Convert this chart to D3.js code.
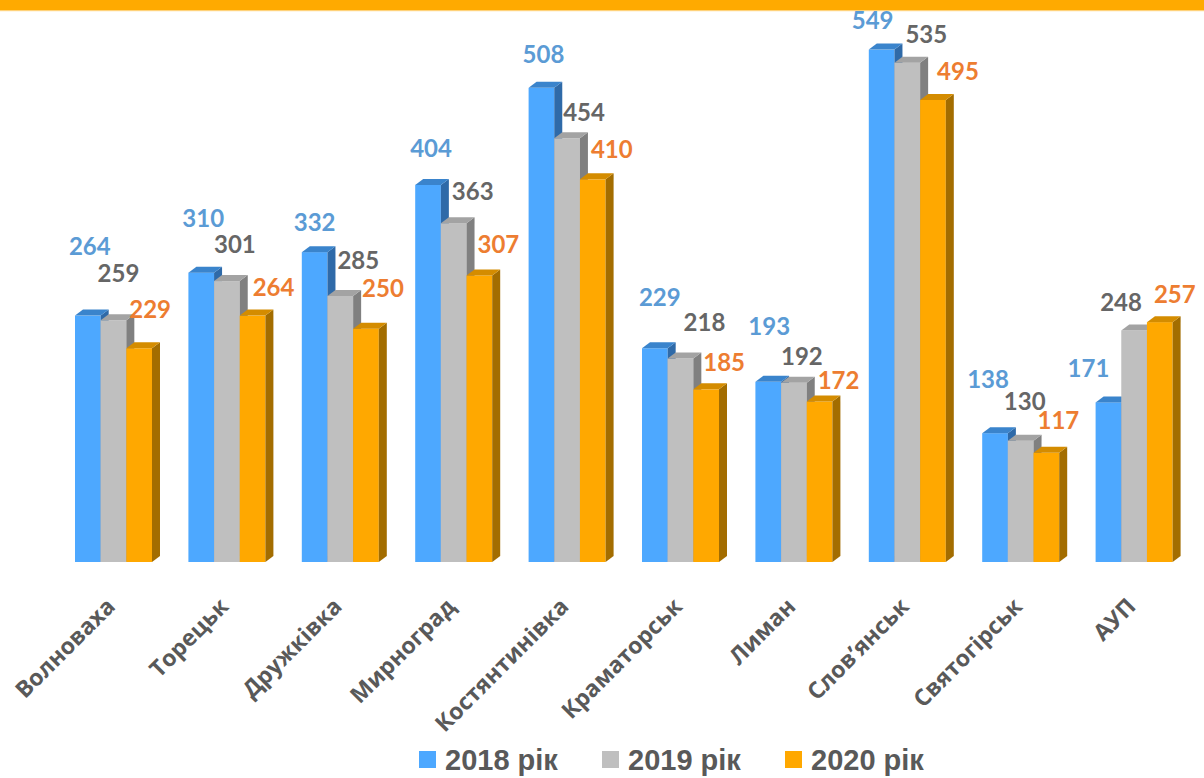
<!DOCTYPE html>
<html>
<head>
<meta charset="utf-8">
<script src="https://cdn.jsdelivr.net/npm/d3@7"></script>
<style>
  html, body { margin: 0; padding: 0; background: #ffffff; }
  svg { display: block; }
</style>
</head>
<body>
<svg id="chart" width="1204" height="778"></svg>
<script>
// Кількість звернень по містах, 2018–2020
const categories = ["Волноваха", "Торецьк", "Дружківка", "Мирноград", "Костянтинівка",
                    "Краматорськ", "Лиман", "Слов\u2019янськ", "Святогірськ", "АУП"];
const values2018 = [264, 310, 332, 404, 508, 229, 193, 549, 138, 171];
const values2019 = [259, 301, 285, 363, 454, 218, 192, 535, 130, 248];
const values2020 = [229, 264, 250, 307, 410, 185, 172, 495, 117, 257];
const seriesNames = ["2018 рік", "2019 рік", "2020 рік"];

// Hand-placed value labels: [dx from bar centre, dy of baseline from bar top]
const labelNudge2018 = [[2,-61],[2,-46],[0,-21],[3,-28],[2,-25],[5,-42],[1,-47],[-9,-21],[-7,-45],[-20,-25]];
const labelNudge2019 = [[5,-38],[8,-28],[18,-27],[19,-23],[17,-17],[24,-28],[8,-18],[19,-20],[4,-31],[-13,-20]];
const labelNudge2020 = [[11,-30],[21,-20],[17,-32],[19,-22],[19,-21],[18,-18],[19,-12],[25,-20],[12,-24],[15,-19]];

const series = [
  { name: seriesNames[0], values: values2018, nudge: labelNudge2018,
    front: "#4da8ff", top: "#3a84cc", side: "#2f6aa8", label: "#5b9bd5" },
  { name: seriesNames[1], values: values2019, nudge: labelNudge2019,
    front: "#bfbfbf", top: "#a3a3a3", side: "#808080", label: "#666666" },
  { name: seriesNames[2], values: values2020, nudge: labelNudge2020,
    front: "#ffa800", top: "#d48c00", side: "#a36d00", label: "#ed7d31" }
];

const svg = d3.select("#chart");
const W = 1204;

// Top accent band
svg.append("rect").attr("x", 0).attr("y", 0).attr("width", W).attr("height", 10).attr("fill", "#ffaa00");
svg.append("rect").attr("x", 0).attr("y", 10).attr("width", W).attr("height", 1.2).attr("fill", "#ffd27a");

const y = d3.scaleLinear().domain([0, 600]).range([562, 2]);
const x0 = d3.scaleBand().domain(categories).range([56.8, 1190.8])
  .paddingInner(0.321).paddingOuter(0.1605);
const x1 = d3.scaleBand().domain(d3.range(series.length)).range([0, x0.bandwidth()]);

// 3D extrusion offsets
const DX = 8, DY = 6;

const bars = [];
categories.forEach((c, ci) => {
  series.forEach((s, si) => {
    bars.push({ cat: c, ci, si, s, v: s.values[ci] });
  });
});

const g = svg.append("g");
const bar = g.selectAll("g.bar").data(bars).join("g").attr("class", "bar");

bar.each(function(d) {
  const sel = d3.select(this);
  const xl = x0(d.cat) + x1(d.si);
  const w = x1.bandwidth();
  const xr = xl + w;
  const yt = y(d.v);
  const yb = y(0);
  // front face
  sel.append("rect").attr("x", xl).attr("y", yt).attr("width", w).attr("height", yb - yt)
    .attr("fill", d.s.front);
  // side face
  sel.append("polygon")
    .attr("points", [[xr, yt], [xr + DX, yt - DY], [xr + DX, yb - DY], [xr, yb]].map(p => p.join(",")).join(" "))
    .attr("fill", d.s.side);
  // top face
  sel.append("polygon")
    .attr("points", [[xl, yt], [xl + DX, yt - DY], [xr + DX, yt - DY], [xr, yt]].map(p => p.join(",")).join(" "))
    .attr("fill", d.s.top);
});

// Value labels
g.selectAll("text.value").data(bars).join("text")
  .attr("class", "value")
  .attr("x", d => x0(d.cat) + x1(d.si) + x1.bandwidth() / 2 + d.s.nudge[d.ci][0])
  .attr("y", d => y(d.v) + d.s.nudge[d.ci][1])
  .attr("text-anchor", "middle")
  .attr("font-family", "Lato, 'Open Sans', sans-serif")
  .attr("font-weight", 700)
  .attr("font-size", 24)
  .attr("fill", d => d.s.label)
  .text(d => d.v);

// Category labels, rotated
svg.append("g").selectAll("text.cat").data(categories).join("text")
  .attr("class", "cat")
  .attr("transform", c => `translate(${x0(c) + x0.bandwidth() / 2 + 3},608) rotate(-45)`)
  .attr("text-anchor", "end")
  .attr("font-family", "'Open Sans', sans-serif")
  .attr("font-weight", 700)
  .attr("font-size", 23)
  .attr("fill", "#595959")
  .text(c => c);

// Legend
const legend = svg.append("g").attr("transform", "translate(419,751)");
const item = legend.selectAll("g").data(series).join("g")
  .attr("transform", (d, i) => `translate(${i * 183},0)`);
item.append("rect").attr("width", 17).attr("height", 17).attr("fill", d => d.front);
item.append("text")
  .attr("x", 26).attr("y", 19)
  .attr("font-family", "'Liberation Sans', Arial, sans-serif")
  .attr("font-weight", 700)
  .attr("font-size", 29)
  .attr("fill", "#595959")
  .text(d => d.name);
</script>
</body>
</html>
